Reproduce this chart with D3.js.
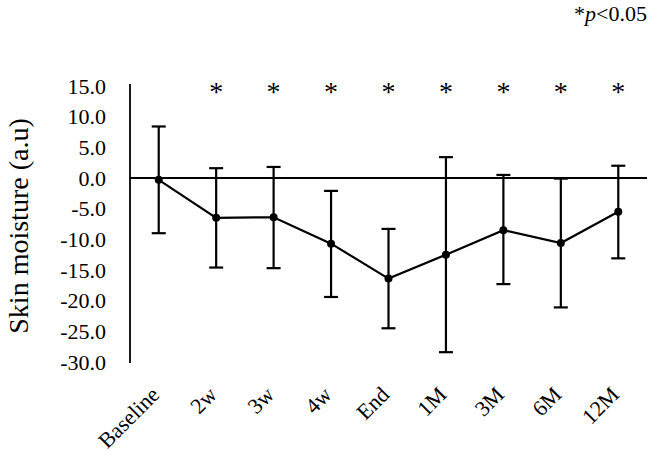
<!DOCTYPE html>
<html>
<head>
<meta charset="utf-8">
<script src="https://cdn.jsdelivr.net/npm/d3@7"></script>
<style>
  body { margin: 0; background: #fff; }
  svg { display: block; font-family: "Liberation Serif", "Times New Roman", serif; }
</style>
</head>
<body>
<svg id="chart" width="657" height="460"></svg>
<script>
const categories = ["Baseline", "2w", "3w", "4w", "End", "1M", "3M", "6M", "12M"];
const means = [-0.3, -6.5, -6.4, -10.7, -16.4, -12.5, -8.5, -10.6, -5.5];
const upper = [8.4, 1.6, 1.8, -2.1, -8.3, 3.4, 0.5, -0.1, 2.0];
const lower = [-9.0, -14.6, -14.7, -19.4, -24.5, -28.4, -17.3, -21.1, -13.1];
const significant = [false, true, true, true, true, true, true, true, true];
const yTicks = [15, 10, 5, 0, -5, -10, -15, -20, -25, -30];
const yLabel = "Skin moisture (a.u)";

const svg = d3.select("#chart");
const mLeft = 130, mRight = 647, mTop = 86, mBottom = 362;
const serif = "Liberation Serif, Times New Roman, serif";

const x = d3.scaleBand().domain(categories).range([mLeft, mRight]).padding(0);
const y = d3.scaleLinear().domain([-30, 15]).range([mBottom, mTop]);
const cx = c => x(c) + x.bandwidth() / 2;

// y axis
const yAxis = svg.append("g").attr("transform", `translate(${mLeft},0)`)
  .call(d3.axisLeft(y).tickValues(yTicks).tickSize(0).tickPadding(24).tickFormat(d3.format(".1f")));
yAxis.attr("font-family", serif).attr("font-size", 22);
yAxis.select(".domain").attr("stroke", "#000").attr("stroke-width", 1.8)
  .attr("d", `M0,${y(15) - 2}V${y(-30) + 1}`);
yAxis.selectAll("text").attr("font-size", 22).attr("fill", "#000")
  .text(d => d3.format(".1f")(d).replace("−", "-"));

// zero line x axis
svg.append("line").attr("x1", mLeft).attr("x2", mRight)
  .attr("y1", y(0)).attr("y2", y(0)).attr("stroke", "#000").attr("stroke-width", 1.8);

// x labels
svg.append("g").selectAll("text").data(categories).join("text")
  .attr("transform", d => `translate(${cx(d) + 2},396) rotate(-45)`)
  .attr("text-anchor", "end")
  .attr("font-size", 22)
  .text(d => d);

// y label
svg.append("text")
  .attr("transform", `translate(28,${(mTop + mBottom) / 2 + 2}) rotate(-90)`)
  .attr("text-anchor", "middle").attr("font-size", 28).text(yLabel);

const data = categories.map((c, i) => ({ c, m: means[i], u: upper[i], l: lower[i], s: significant[i] }));

// error bars
const eb = svg.append("g").attr("stroke", "#000").attr("stroke-width", 2.2);
data.forEach(d => {
  eb.append("line").attr("x1", cx(d.c)).attr("x2", cx(d.c)).attr("y1", y(d.u)).attr("y2", y(d.l));
  eb.append("line").attr("x1", cx(d.c) - 7).attr("x2", cx(d.c) + 7).attr("y1", y(d.u)).attr("y2", y(d.u));
  eb.append("line").attr("x1", cx(d.c) - 7).attr("x2", cx(d.c) + 7).attr("y1", y(d.l)).attr("y2", y(d.l));
});

// line
svg.append("path").datum(data)
  .attr("fill", "none").attr("stroke", "#000").attr("stroke-width", 2.2)
  .attr("d", d3.line().x(d => cx(d.c)).y(d => y(d.m)));

svg.append("g").selectAll("circle").data(data).join("circle")
  .attr("cx", d => cx(d.c)).attr("cy", d => y(d.m)).attr("r", 4).attr("fill", "#000");

// asterisks
svg.append("g").selectAll("text").data(data.filter(d => d.s)).join("text")
  .attr("x", d => cx(d.c)).attr("y", 101)
  .attr("text-anchor", "middle").attr("font-size", 28).text("*");

// p note
const note = svg.append("text").attr("x", 647).attr("y", 21).attr("text-anchor", "end").attr("font-size", 22);
note.append("tspan").text("*");
note.append("tspan").attr("font-style", "italic").text("p");
note.append("tspan").text("<0.05");
</script>
</body>
</html>
